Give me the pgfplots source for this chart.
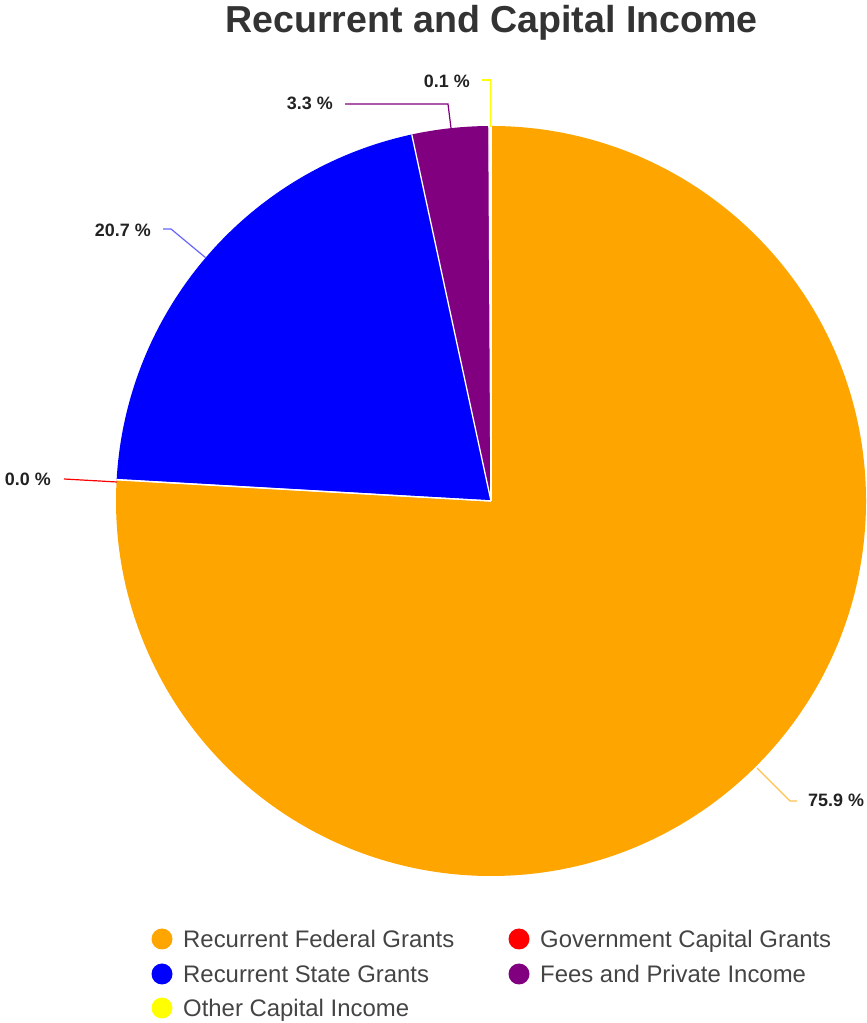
\documentclass[border=0pt]{standalone}
\usepackage{pgfplots}
\pgfplotsset{compat=1.18}
\usepackage{fontspec}
\setmainfont{Liberation Sans}
\definecolor{pieorange}{HTML}{FFA500}
\definecolor{pieblue}{HTML}{0000FF}
\definecolor{piered}{HTML}{FF0000}
\definecolor{piepurple}{HTML}{800080}
\definecolor{pieyellow}{HTML}{FFFF00}
\definecolor{titlec}{HTML}{333333}
\definecolor{labc}{HTML}{222222}
\definecolor{legc}{HTML}{444444}
\begin{document}
\begin{tikzpicture}
\begin{scope}[x=1bp,y=1bp]
\path[use as bounding box] (0,0) rectangle (867,1023);
\end{scope}
\begin{axis}[at={(491bp,522bp)}, anchor=center, scale only axis,
  width=750bp, height=750bp, xmin=-1, xmax=1, ymin=-1, ymax=1,
  hide axis, clip=false]
\addplot[draw=none] coordinates {(0,0)};
\pgfplotsextra{
  \gdef\cum{0}
  \foreach \v/\c in {75.9/pieorange,0.01/piered,20.7/pieblue,3.3/piepurple,0.1/pieyellow}{
    \pgfmathsetmacro\a{90-3.6*\cum}
    \pgfmathsetmacro\b{90-3.6*(\cum+\v)}
    \fill[\c] (axis cs:0,0) -- (axis cs:{cos(\a)},{sin(\a)}) arc[start angle=\a, end angle=\b, radius=375bp] -- cycle;
    \pgfmathsetmacro\n{\cum+\v}
    \global\let\cum\n
  }
  \gdef\cum{0}
  \foreach \v in {75.9,0.01,20.7,3.3,0.1}{
    \pgfmathsetmacro\a{90-3.6*\cum}
    \draw[white, line width=1.3bp] (axis cs:0,0) -- (axis cs:{cos(\a)},{sin(\a)});
    \pgfmathsetmacro\n{\cum+\v}
    \global\let\cum\n
  }
}
\end{axis}
\begin{scope}[x=1bp,y=1bp]
% title
\node[text=titlec, font=\bfseries\fontsize{37.7}{40}\selectfont, inner sep=0] at (491.5,1023-23) {Recurrent and Capital Income};
% leader lines
\draw[pieyellow, line width=1.2bp] (482,1023-80) -- (490.5,1023-80) -- (490.5,1023-127);
\draw[piepurple, line width=1.2bp] (345,1023-104) -- (448,1023-104) -- (451,1023-128);
\draw[pieblue!60, line width=1.2bp] (163,1023-229) -- (171,1023-229) -- (206,1023-258);
\draw[piered, line width=1.2bp] (64,1023-479) -- (117,1023-482);
\draw[pieorange!70, line width=1.2bp] (757,1023-768) -- (790,1023-801) -- (797,1023-801);
% labels
\begin{scope}[every node/.style={text=labc, font=\bfseries\fontsize{18}{18}\selectfont, inner sep=0}]
\node[anchor=base east] at (470,1023-88) {0.1 \%};
\node[anchor=base east] at (333,1023-110) {3.3 \%};
\node[anchor=base east] at (151,1023-237) {20.7 \%};
\node[anchor=base east] at (51,1023-486) {0.0 \%};
\node[anchor=base west] at (808,1023-807) {75.9 \%};
\end{scope}
% legend
\begin{scope}[every node/.style={text=legc, font=\fontsize{24}{24}\selectfont, inner sep=0, anchor=base west}]
\fill[pieorange] (162,1023-939) circle (10.5);
\node at (183,1023-947.5) {Recurrent Federal Grants};
\fill[piered] (519,1023-939) circle (10.5);
\node at (540,1023-947.5) {Government Capital Grants};
\fill[pieblue] (162,1023-974) circle (10.5);
\node at (183,1023-982.5) {Recurrent State Grants};
\fill[piepurple] (519,1023-974) circle (10.5);
\node at (540,1023-982.5) {Fees and Private Income};
\fill[pieyellow] (162,1023-1008) circle (10.5);
\node at (183,1023-1016.5) {Other Capital Income};
\end{scope}
\end{scope}
\end{tikzpicture}
\end{document}
